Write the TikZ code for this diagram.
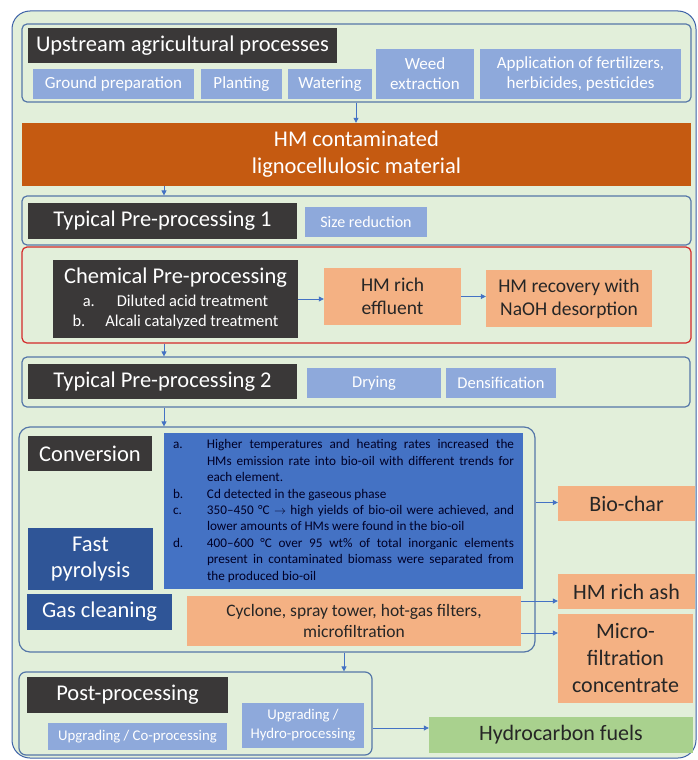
\documentclass[tikz,border=0pt]{standalone}
\usepackage{fontspec}
\setmainfont{Carlito}
\usetikzlibrary{arrows.meta}
\definecolor{bgG}{HTML}{E2EFDA}
\definecolor{frameC}{HTML}{5577A8}
\definecolor{outerC}{HTML}{3E62A8}
\definecolor{redC}{HTML}{D42A2A}
\definecolor{darkC}{HTML}{3A3838}
\definecolor{lbC}{HTML}{8EA9DB}
\definecolor{hmC}{HTML}{C55A11}
\definecolor{orC}{HTML}{F4B183}
\definecolor{blC}{HTML}{4472C4}
\definecolor{dbC}{HTML}{2F5597}
\definecolor{grC}{HTML}{A9D18E}
\definecolor{arrC}{HTML}{4472C4}
\newcommand\fs[2]{\fontsize{#1}{#2}\selectfont}
\newcommand\rbox[7]{\node[inner sep=0pt, align=center, minimum width={(#4)-(#2)}, minimum height={(#5)-(#3)}, #6] (#1) at ({((#2)+(#4))/2},{-((#3)+(#5))/2}) {#7};}
\newcommand\itm[1]{\noindent\hspace*{-34pt}\makebox[34pt][l]{#1}}
\begin{document}
\begin{tikzpicture}[x=1pt,y=1pt,
  frame/.style={draw=frameC, line width=1.2pt, fill=bgG, rounded corners=5pt},
  dark/.style={fill=darkC, text=white, font=\fs{22.5}{26}},
  lb/.style={fill=lbC, text=white, font=\fs{17}{20}},
  orS/.style={fill=orC, text=black!85, font=\fs{19.5}{23}},
  dbS/.style={fill=dbC, text=white, font=\fs{22.5}{26}},
  arr/.style={draw=arrC, line width=0.8pt, -{Triangle[length=5pt,width=5pt]}}]
\useasboundingbox (0,0) rectangle (697,-760);
\fill[white] (0,0) rectangle (697,-760);
\draw[draw=outerC, line width=1pt, fill=bgG, rounded corners=18pt] (12,-11) rectangle (696,-758);
% upstream
\rbox{upf}{22}{24}{691}{102}{frame}{}
\rbox{up}{28}{28}{337}{63}{dark}{Upstream agricultural processes}
\rbox{gp}{33}{69}{194}{99}{lb}{Ground preparation}
\rbox{pl}{201}{69}{282}{99}{lb}{Planting}
\rbox{wa}{288}{69}{372}{99}{lb}{Watering}
\rbox{we}{376}{49}{474}{99}{lb}{Weed\\extraction}
\rbox{ap}{480}{49}{681}{99}{lb}{Application of fertilizers,\\herbicides, pesticides}
% HM
\rbox{hm}{22}{123}{691}{186}{fill=hmC, text=white, font=\fs{22.5}{27}}{HM contaminated\\lignocellulosic material}
% TP1
\rbox{tp1f}{22}{196}{691}{245}{frame}{}
\rbox{tp1}{28}{203}{297}{239}{dark}{Typical Pre-processing 1}
\rbox{sr}{305}{207}{427}{237}{lb, font=\fs{16}{19}}{Size reduction}
% chemical
\rbox{chf}{22}{247}{691}{343}{frame, draw=redC}{}
\rbox{ch}{53}{260}{298}{338}{dark}{Chemical Pre-processing\\[-3pt]{\fs{16.5}{20}a.\hspace{22pt}Diluted acid treatment}\\[-6pt]{\fs{16.5}{20}b.\hspace{20pt}Alcali catalyzed treatment}}
\rbox{eff}{324}{268}{461}{325}{orS}{HM rich\\effluent}
\rbox{rec}{486}{270}{652}{327}{orS}{HM recovery with\\NaOH desorption}
% TP2
\rbox{tp2f}{22}{357}{690}{407}{frame}{}
\rbox{tp2}{28}{364}{297}{399}{dark}{Typical Pre-processing 2}
\rbox{dry}{307}{368}{441}{398}{lb, font=\fs{16.5}{19}}{Drying}
\rbox{den}{446}{368}{556}{398}{lb, font=\fs{16.5}{19}}{Densification}
% conversion
\rbox{cvf}{19}{427}{535}{652}{frame, rounded corners=11pt}{}
\rbox{cv}{28}{436}{152}{471}{dark}{Conversion}
\rbox{txt}{164}{433}{523}{589}{fill=blC, text=black!85!blue, font=\fs{13.2}{16.4}, text width=341pt, align=justify}{%
\parindent=0pt\leftskip=34pt
\itm{a.}Higher temperatures and heating rates increased the\linebreak HMs emission rate into bio-oil with different trends for\linebreak each element.\par
\itm{b.}Cd detected in the gaseous phase\par
\itm{c.}350–450 °C $\rightarrow$ high yields of bio-oil were achieved, and\linebreak lower amounts of HMs were found in the bio-oil\par
\itm{d.}400–600 °C over 95 wt\% of total inorganic elements\linebreak present in contaminated biomass were separated from\linebreak the produced bio-oil\par}
\rbox{fp}{28}{528}{153}{590}{dbS}{Fast\\pyrolysis}
\rbox{gc}{27}{594}{172}{630}{dbS}{Gas cleaning}
\rbox{cyc}{187}{596}{521}{646}{orS, font=\fs{17.5}{21}}{Cyclone, spray tower, hot-gas filters,\\microfiltration}
% right column
\rbox{bio}{558}{486}{695}{521}{orS, font=\fs{22}{27}}{Bio-char}
\rbox{ash}{558}{574}{695}{609}{orS, font=\fs{22}{27}}{HM rich ash}
\rbox{mic}{558}{614}{693}{703}{orS, font=\fs{22}{27}}{Micro-\\filtration\\concentrate}
% post
\rbox{pf}{19}{672}{372}{755}{frame, rounded corners=7pt}{}
\rbox{pp}{27}{677}{228}{713}{dark}{Post-processing}
\rbox{uc}{48}{723}{227}{750}{lb, font=\fs{14.8}{18}}{Upgrading / Co-processing}
\rbox{uh}{242}{703}{364}{748}{lb, font=\fs{14.8}{19}}{Upgrading /\\Hydro-processing}
\rbox{hc}{429}{717}{693}{753}{fill=grC, text=black!85, font=\fs{22}{27}}{Hydrocarbon fuels}
% arrows
\coordinate (xA) at (356,0);
\coordinate (xB) at (164,0);
\coordinate (xC) at (344,0);
\draw[arr] (upf.south -| xA) -- (hm.north -| xA);
\draw[arr] (hm.south -| xB) -- (tp1f.north -| xB);
\draw[arr] (chf.south -| xB) -- (tp2f.north -| xB);
\draw[arr] (tp2f.south -| xB) -- (cvf.north -| xB);
\draw[arr] (cvf.south -| xC) -- (pf.north -| xC);
\draw[arr] (ch.east) -- (ch.east -| eff.west);
\draw[arr] (eff.east) -- (eff.east -| rec.west);
\draw[arr] ([yshift=1pt]bio.west -| cvf.east) -- ([yshift=1pt]bio.west);
\draw[arr] ([yshift=20pt]cyc.east) -- ([yshift=20pt]cyc.east -| ash.west);
\draw[arr] ([yshift=-12pt]cyc.east) -- ([yshift=-12pt]cyc.east -| mic.west);
\draw[arr] ([yshift=7pt]hc.west -| pf.east) -- ([yshift=7pt]hc.west);
\end{tikzpicture}
\end{document}
